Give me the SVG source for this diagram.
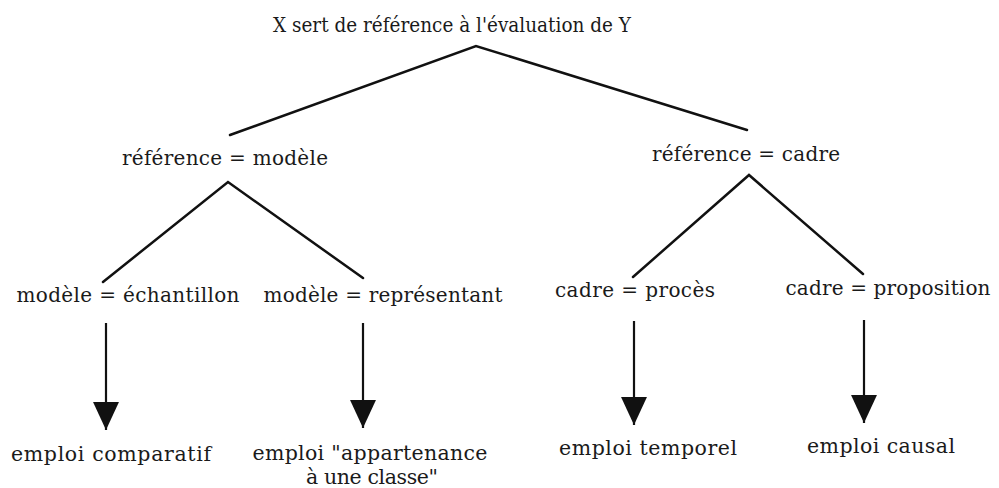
<svg xmlns="http://www.w3.org/2000/svg" width="999" height="488" viewBox="0 0 999 488">
<style>
  text { font-family: "DejaVu Serif", "Liberation Serif", serif; font-size: 20px; fill: #1a1a1a; text-anchor: middle; }
  .lg { font-size: 20.5px; }
  .edge { stroke: #111; stroke-width: 2.5; fill: none; stroke-linecap: round; }
  .arrow { stroke: #111; stroke-width: 2.2; fill: none; marker-end: url(#tri); }
</style>
<defs>
  <marker id="tri" markerUnits="userSpaceOnUse" markerWidth="28" markerHeight="26" refX="27" refY="12.5" orient="auto" viewBox="0 0 27 25">
    <path d="M0,0 L27,12.5 L0,25 Z" fill="#111"/>
  </marker>
</defs>
<rect width="999" height="488" fill="#fff"/>
<g id="connectors">
  <path class="edge" d="M230,135 L476,46 L747,130"/>
  <path class="edge" d="M103,282 L228,182 L363,278"/>
  <path class="edge" d="M633,277 L749,175 L863,274"/>
  <path class="arrow" d="M106,323 L106,430"/>
  <path class="arrow" d="M363,323 L363,428"/>
  <path class="arrow" d="M634,321 L634,425"/>
  <path class="arrow" d="M864,320 L864,423"/>
</g>
<g id="root"><text x="452" y="32" style="font-size:19.5px" textLength="358" lengthAdjust="spacingAndGlyphs">X sert de référence à l'évaluation de Y</text></g>
<g id="ref-modele"><text x="225" y="165" textLength="206">référence = modèle</text></g>
<g id="ref-cadre"><text x="746" y="161" textLength="188">référence = cadre</text></g>
<g id="modele-echantillon"><text x="128" y="302" textLength="223">modèle = échantillon</text></g>
<g id="modele-representant"><text x="383" y="302" textLength="239">modèle = représentant</text></g>
<g id="cadre-proces"><text x="635" y="297" textLength="160">cadre = procès</text></g>
<g id="cadre-proposition"><text x="888" y="295" textLength="205">cadre = proposition</text></g>
<g id="emploi-comparatif"><text class="lg" x="111" y="461" textLength="200">emploi comparatif</text></g>
<g id="emploi-appartenance"><text class="lg" x="370" y="460" textLength="235">emploi "appartenance</text><text class="lg" x="372" y="484" textLength="132">à une classe"</text></g>
<g id="emploi-temporel"><text class="lg" x="648" y="455" textLength="178">emploi temporel</text></g>
<g id="emploi-causal"><text class="lg" x="881" y="453" textLength="148">emploi causal</text></g>
</svg>
